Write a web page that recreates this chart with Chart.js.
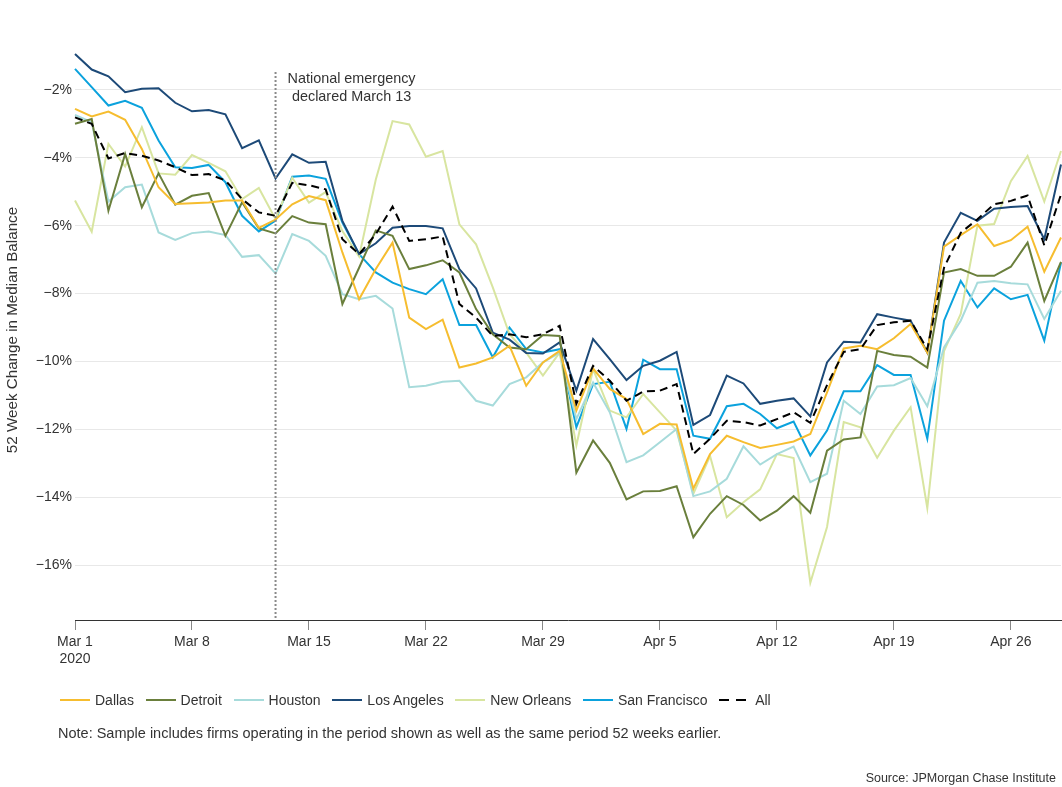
<!DOCTYPE html>
<html lang="en">
<head>
<meta charset="utf-8">
<title>52 Week Change in Median Balance</title>
<script src="https://cdn.jsdelivr.net/npm/chart.js@4.4.1/dist/chart.umd.min.js"></script>
<style>
  html, body { margin: 0; padding: 0; background: #fff; }
  #wrap { position: relative; width: 1062px; height: 787px; font-family: "Liberation Sans", Arial, sans-serif; color: #333; }
  #chart { position: absolute; left: 0; top: 0; }
  #legend { position: absolute; left: 60px; top: 691px; display: flex; align-items: center; font-size: 14px; line-height: 18px; }
  .item { display: flex; align-items: center; margin-right: 11.7px; }
  .swatch { width: 30px; height: 2px; margin-right: 5px; }
  #note { position: absolute; left: 58px; top: 724px; font-size: 14.5px; line-height: 18px; }
  #source { position: absolute; right: 6px; top: 770px; font-size: 12.5px; line-height: 16px; }
</style>
</head>
<body>
<div id="wrap">
  <canvas id="chart" width="1062" height="787"></canvas>
  <div id="legend"></div>
  <div id="note">Note: Sample includes firms operating in the period shown as well as the same period 52 weeks earlier.</div>
  <div id="source">Source: JPMorgan Chase Institute</div>
</div>
<script>
// Dias (1 mar - 29 abr 2020)
const dates = [
  'Mar 1', 'Mar 2', 'Mar 3', 'Mar 4', 'Mar 5', 'Mar 6', 'Mar 7', 'Mar 8', 'Mar 9', 'Mar 10',
  'Mar 11', 'Mar 12', 'Mar 13', 'Mar 14', 'Mar 15', 'Mar 16', 'Mar 17', 'Mar 18', 'Mar 19', 'Mar 20',
  'Mar 21', 'Mar 22', 'Mar 23', 'Mar 24', 'Mar 25', 'Mar 26', 'Mar 27', 'Mar 28', 'Mar 29', 'Mar 30',
  'Mar 31', 'Apr 1', 'Apr 2', 'Apr 3', 'Apr 4', 'Apr 5', 'Apr 6', 'Apr 7', 'Apr 8', 'Apr 9',
  'Apr 10', 'Apr 11', 'Apr 12', 'Apr 13', 'Apr 14', 'Apr 15', 'Apr 16', 'Apr 17', 'Apr 18', 'Apr 19',
  'Apr 20', 'Apr 21', 'Apr 22', 'Apr 23', 'Apr 24', 'Apr 25', 'Apr 26', 'Apr 27', 'Apr 28', 'Apr 29'
];
const xTickLabels = ['Mar 1', 'Mar 8', 'Mar 15', 'Mar 22', 'Mar 29', 'Apr 5', 'Apr 12', 'Apr 19', 'Apr 26'];
const yTickValues = [-16, -14, -12, -10, -8, -6, -4, -2];
const emergencyDate = 'Mar 13';

// Variação em 52 semanas do saldo mediano (%)
const dallas = [
  -2.56, -2.78, -2.64, -2.88, -3.74, -4.87, -5.36, -5.34, -5.32, -5.26,
  -5.26, -6.07, -5.82, -5.37, -5.13, -5.25, -6.79, -8.17, -7.28, -6.50,
  -8.71, -9.05, -8.77, -10.18, -10.06, -9.88, -9.54, -10.72, -10.03, -9.69,
  -11.45, -10.21, -10.81, -11.11, -12.14, -11.84, -11.86, -13.75, -12.73, -12.19,
  -12.38, -12.55, -12.46, -12.36, -12.14, -10.91, -9.62, -9.54, -9.64, -9.32,
  -8.90, -9.74, -6.62, -6.28, -5.96, -6.60, -6.43, -6.03, -7.36, -6.35
];
const detroit = [
  -3.00, -2.86, -5.56, -3.89, -5.46, -4.46, -5.38, -5.12, -5.04, -6.30,
  -5.31, -6.08, -6.23, -5.72, -5.91, -5.96, -8.31, -7.24, -6.14, -6.30,
  -7.28, -7.17, -7.02, -7.38, -8.46, -9.20, -9.59, -9.64, -9.22, -9.25,
  -13.28, -12.33, -12.99, -14.07, -13.83, -13.82, -13.68, -15.18, -14.49, -13.97,
  -14.23, -14.69, -14.40, -13.97, -14.46, -12.63, -12.30, -12.24, -9.69, -9.81,
  -9.86, -10.18, -7.38, -7.28, -7.48, -7.48, -7.21, -6.50, -8.22, -7.07
];
const houston = [
  -2.74, -2.95, -5.29, -4.87, -4.79, -6.20, -6.42, -6.22, -6.17, -6.28,
  -6.92, -6.87, -7.41, -6.25, -6.45, -6.89, -8.02, -8.17, -8.07, -8.44,
  -10.76, -10.72, -10.60, -10.57, -11.16, -11.30, -10.67, -10.47, -10.03, -9.74,
  -11.70, -10.62, -11.50, -12.97, -12.77, -12.38, -11.99, -13.97, -13.83, -13.46,
  -12.50, -13.04, -12.73, -12.51, -13.56, -13.31, -11.16, -11.55, -10.74, -10.70,
  -10.49, -11.32, -9.59, -8.80, -7.68, -7.63, -7.70, -7.73, -8.75, -7.92
];
const losAngeles = [
  -0.94, -1.40, -1.60, -2.07, -1.97, -1.95, -2.38, -2.63, -2.59, -2.72,
  -3.72, -3.49, -4.61, -3.90, -4.15, -4.12, -5.86, -6.84, -6.52, -6.06,
  -6.01, -6.01, -6.08, -7.28, -7.85, -9.15, -9.36, -9.75, -9.77, -9.44,
  -10.86, -9.34, -9.93, -10.55, -10.13, -9.98, -9.72, -11.87, -11.58, -10.42,
  -10.65, -11.25, -11.16, -11.09, -11.62, -10.03, -9.42, -9.44, -8.61, -8.71,
  -8.80, -9.74, -6.50, -5.62, -5.86, -5.50, -5.45, -5.42, -6.40, -4.20
];
const newOrleans = [
  -5.26, -6.18, -3.59, -4.26, -3.10, -4.46, -4.50, -3.92, -4.15, -4.40,
  -5.22, -4.89, -5.81, -4.59, -5.32, -5.01, -6.16, -6.91, -4.64, -2.92,
  -3.02, -3.97, -3.80, -5.96, -6.55, -7.82, -9.20, -9.74, -10.42, -9.74,
  -12.48, -10.23, -11.45, -11.65, -10.96, -11.50, -12.04, -13.90, -12.79, -14.59,
  -14.15, -13.77, -12.73, -12.85, -16.52, -14.88, -11.79, -11.94, -12.84, -12.04,
  -11.35, -14.32, -9.70, -8.60, -6.00, -5.95, -4.69, -3.95, -5.29, -3.80
];
const sanFrancisco = [
  -1.38, -1.92, -2.46, -2.32, -2.53, -3.49, -4.28, -4.30, -4.21, -4.72,
  -5.71, -6.17, -5.85, -4.56, -4.52, -4.62, -5.91, -6.84, -7.38, -7.68,
  -7.87, -8.02, -7.58, -8.93, -8.93, -9.88, -9.00, -9.64, -9.74, -9.64,
  -11.94, -10.67, -10.60, -11.99, -9.95, -10.23, -10.23, -12.19, -12.28, -11.32,
  -11.25, -11.55, -11.97, -11.77, -12.77, -12.04, -10.88, -10.88, -10.11, -10.40,
  -10.40, -12.28, -8.80, -7.63, -8.41, -7.85, -8.17, -8.04, -9.39, -7.09
];
const allFirms = [
  -2.81, -3.00, -4.02, -3.86, -3.94, -4.08, -4.28, -4.51, -4.48, -4.67,
  -5.22, -5.61, -5.71, -4.74, -4.81, -4.93, -6.40, -6.84, -6.25, -5.44,
  -6.45, -6.40, -6.32, -8.31, -8.71, -9.25, -9.20, -9.29, -9.20, -8.95,
  -11.25, -10.13, -10.57, -11.16, -10.89, -10.86, -10.67, -12.73, -12.28, -11.75,
  -11.79, -11.89, -11.70, -11.50, -11.81, -10.70, -9.72, -9.64, -8.93, -8.85,
  -8.80, -9.64, -7.24, -6.21, -5.81, -5.37, -5.27, -5.11, -6.58, -5.08
];

const FONT = '"Liberation Sans", Arial, sans-serif';
Chart.defaults.font.family = FONT;
Chart.defaults.font.size = 14;
Chart.defaults.color = '#333';

function serie(label, data, color, extra) {
  return Object.assign({
    label: label,
    data: data,
    borderColor: color,
    backgroundColor: color,
    borderWidth: 2,
    pointRadius: 0,
    tension: 0,
    fill: false,
  }, extra || {});
}

// Linha pontilhada da emergência nacional + texto
const emergencyLine = {
  id: 'emergencyLine',
  afterDatasetsDraw(chart) {
    const { ctx, chartArea, scales: { x } } = chart;
    const px = x.getPixelForValue(dates.indexOf(emergencyDate));
    ctx.save();
    ctx.strokeStyle = '#8a8a8a';
    ctx.lineWidth = 2;
    ctx.setLineDash([2, 2]);
    ctx.beginPath();
    ctx.moveTo(px, 72);
    ctx.lineTo(px, chartArea.bottom);
    ctx.stroke();
    ctx.setLineDash([]);
    ctx.fillStyle = '#333';
    ctx.font = '14.4px ' + FONT;
    ctx.textAlign = 'center';
    ctx.textBaseline = 'middle';
    ctx.fillText('National emergency', px + 76, 79);
    ctx.fillText('declared March 13', px + 76, 97);
    ctx.restore();
  }
};

const ctx = document.getElementById('chart').getContext('2d');
const chart = new Chart(ctx, {
  type: 'line',
  data: {
    labels: dates,
    datasets: [
      serie('Dallas', dallas, '#f6bd2f'),
      serie('Detroit', detroit, '#6a7f3c'),
      serie('Houston', houston, '#a7dbdb'),
      serie('Los Angeles', losAngeles, '#1d4a78'),
      serie('New Orleans', newOrleans, '#d8e5a0'),
      serie('San Francisco', sanFrancisco, '#0ba2dd'),
      serie('All', allFirms, '#000000', { borderDash: [8, 5], order: -1 }),
    ],
  },
  options: {
    responsive: false,
    animation: false,
    layout: { padding: { top: 40, right: 1, bottom: 117, left: 0 } },
    plugins: {
      legend: { display: false },
      tooltip: { enabled: false },
    },
    scales: {
      x: {
        type: 'category',
        offset: false,
        afterBuildTicks: (scale) => {
          scale.ticks = scale.ticks.filter(t => xTickLabels.includes(dates[t.value]));
        },
        afterFit: (scale) => { scale.height = 50; },
        grid: { drawOnChartArea: false, tickLength: 10, color: '#888' },
        border: { color: '#333', width: 1 },
        ticks: {
          autoSkip: false,
          maxRotation: 0,
          padding: 4,
          callback: function (value, index) {
            const label = this.getLabelForValue(value);
            return index === 0 ? [label, '2020'] : label;
          },
        },
      },
      y: {
        min: -17.62,
        max: -0.53,
        afterBuildTicks: (scale) => {
          scale.ticks = yTickValues.map(v => ({ value: v }));
        },
        afterFit: (scale) => { scale.width = 75; },
        grid: { color: '#e8e8e8', drawTicks: false },
        border: { display: false },
        ticks: {
          padding: 3,
          callback: (v) => '\u2212' + Math.abs(v) + '%',
        },
        title: {
          display: true,
          text: '52 Week Change in Median Balance',
          font: { size: 15.2 },
          padding: { top: 4, bottom: 0 },
        },
      },
    },
  },
  plugins: [emergencyLine],
});

// Legenda em HTML
const legend = document.getElementById('legend');
chart.data.datasets.forEach(ds => {
  const item = document.createElement('span');
  item.className = 'item';
  const swatch = document.createElement('span');
  swatch.className = 'swatch';
  if (ds.borderDash) {
    swatch.style.width = '27px';
    swatch.style.marginRight = '9px';
    swatch.style.background = 'linear-gradient(90deg, #000 0 10px, transparent 10px 17px, #000 17px 27px)';
  } else {
    swatch.style.background = ds.borderColor;
  }
  const text = document.createElement('span');
  text.textContent = ds.label;
  item.appendChild(swatch);
  item.appendChild(text);
  legend.appendChild(item);
});
</script>
</body>
</html>
